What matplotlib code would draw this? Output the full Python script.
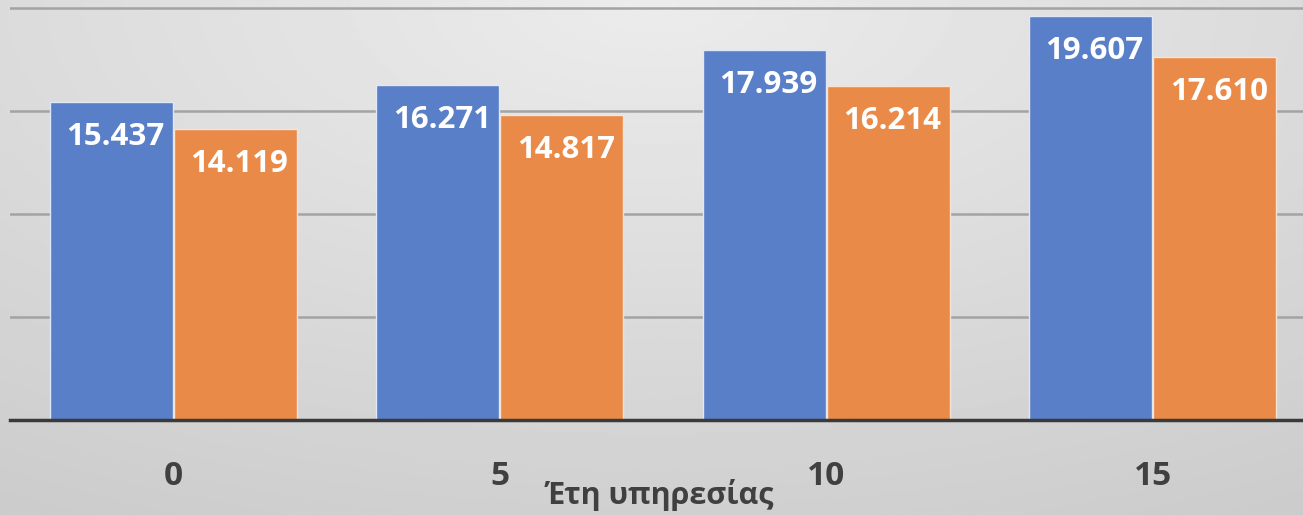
import numpy as np
import matplotlib
matplotlib.use('Agg')
import matplotlib.pyplot as plt

plt.rcParams['font.family'] = ['Open Sans', 'DejaVu Sans']

categories = ['0', '5', '10', '15']
series_a = [15.437, 16.271, 17.939, 19.607]
series_b = [14.119, 14.817, 16.214, 17.610]
labels_a = ['15.437', '16.271', '17.939', '19.607']
labels_b = ['14.119', '14.817', '16.214', '17.610']
xlabel = 'Έτη υπηρεσίας'

W, H = 1303, 515
fig = plt.figure(figsize=(W / 100, H / 100), dpi=100)

# background gradient (light centre top, darker edges)
bg = fig.add_axes([0, 0, 1, 1])
yy, xx = np.mgrid[0:1:200j, 0:1:400j]
r = np.sqrt(((xx - 0.5) * 1.2) ** 2 + (yy * 1.0) ** 2)
shade = 0.925 - 0.11 * np.clip(r, 0, 1.2)
bg.imshow(shade, cmap='gray', vmin=0, vmax=1, aspect='auto', extent=[0, 1, 0, 1], origin='upper')
bg.set_axis_off()

ax = fig.add_axes([10 / W, 95 / H, 1306 / W, 420 / H])
ax.patch.set_alpha(0)
x = np.arange(len(categories))
w = 0.377
off = 0.19
ba = ax.bar(x - off, series_a, w, color='#587fc7', edgecolor='#dfe8f7', linewidth=1, zorder=3)
bb = ax.bar(x + off, series_b, w, color='#e98a48', edgecolor='#f7e3d4', linewidth=1, zorder=3)

for rect, lab in zip(ba, labels_a):
    ax.annotate(lab, (rect.get_x() + rect.get_width() / 2, rect.get_height()),
                xytext=(4, -35), textcoords='offset pixels', ha='center', va='center',
                color='white', fontsize=22.5, fontweight='bold', zorder=4)
for rect, lab in zip(bb, labels_b):
    ax.annotate(lab, (rect.get_x() + rect.get_width() / 2, rect.get_height()),
                xytext=(4, -35), textcoords='offset pixels', ha='center', va='center',
                color='white', fontsize=22.5, fontweight='bold', zorder=4)

ax.set_xlim(-0.5, 3.5)
ax.set_ylim(0, 420 / 20.6)
ax.set_yticks([5, 10, 15, 20])
ax.yaxis.grid(True, color='#a3a3a3', linewidth=1.8, zorder=0)
ax.tick_params(axis='y', left=False, labelleft=False)
ax.set_xticks(x)
ax.set_xticklabels(categories, fontsize=24, fontweight='bold', color='#404040')
ax.tick_params(axis='x', length=0, pad=29)
for s in ['top', 'right', 'left']:
    ax.spines[s].set_visible(False)
ax.spines['bottom'].set_color('#3a3a3a')
ax.spines['bottom'].set_linewidth(2.5)
ax.spines['bottom'].set_zorder(5)

fig.text(660 / W, 1 - 495 / H, xlabel, ha='center', va='center',
         fontsize=22, fontweight='bold', color='#404040')

fig.savefig('out.png', dpi=100)
